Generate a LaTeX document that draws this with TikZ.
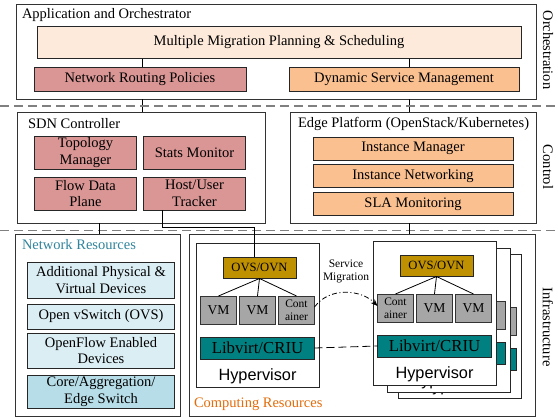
\documentclass[tikz,border=0pt]{standalone}
\usepackage{fontspec}
\setmainfont{Liberation Serif}
\newfontfamily\hypfont{Liberation Sans}
\usetikzlibrary{arrows.meta}

\definecolor{peach}{HTML}{FDEADA}
\definecolor{rose}{HTML}{D99694}
\definecolor{apricot}{HTML}{FAC090}
\definecolor{paleblue}{HTML}{DBEEF4}
\definecolor{midblue}{HTML}{B7DEE8}
\definecolor{gold}{HTML}{BF9000}
\definecolor{vmgray}{HTML}{A6A6A6}
\definecolor{tealbox}{HTML}{008080}
\definecolor{netteal}{HTML}{31859C}
\definecolor{comporange}{HTML}{E46C0A}
\definecolor{sepgray}{HTML}{808080}

% one hypervisor host: prefix, x, y, three guest styles
\newcommand\hyperstack[6]{%
  \node[hypbox] (#1) at (#2,#3) {};
  \node[ovsbox] (#1ovs) at ({#2+27},{#3+14}) {OVS/OVN};
  \node (#1a) at ({#2+4.5},{#3+53}) [#4];
  \node (#1b) at ({#2+43.5},{#3+53}) [#5];
  \node (#1c) at ({#2+82.5},{#3+53}) [#6];
  \node[libbox] (#1lib) at ({#2+4.5},{#3+94}) {Libvirt/CRIU};
  \node[hyptext] (#1txt) at ({#2+61.5},{#3+133}) {Hypervisor};
  \draw[wire] (#1ovs.south) -- (#1a.north);
  \draw[wire] (#1ovs.south) -- (#1b.north);
  \draw[wire] (#1ovs.south) -- (#1c.north);
}
% a host further back in the stack: only its right edge and label peek out
\newcommand\backhost[3]{%
  \node[hypbox] (#1) at (#2,#3) {};
  \node[vmbox] (#1c) at ({#2+82.5},{#3+53}) {};
  \node[libbox] (#1lib) at ({#2+4.5},{#3+94}) {};
  \node[hyptext] (#1txt) at ({#2+61.5},{#3+133}) {Hypervisor};
}

\begin{document}
\begin{tikzpicture}[x=1pt,y=-1pt,
  every node/.style={inner sep=0pt, outer sep=0pt},
  frame/.style={draw=black!80, line width=0.9pt, fill=white, anchor=north west},
  cbox/.style={draw=black!85, line width=0.8pt, anchor=north west, align=center,
    font=\fontsize{14.5}{16.5}\selectfont},
  title/.style={anchor=west, font=\fontsize{14.5}{16}\selectfont},
  side/.style={rotate=-90, font=\fontsize{14.5}{16}\selectfont},
  wire/.style={draw=black, line width=0.8pt},
  sep/.style={draw=sepgray, line width=1.3pt, dash pattern=on 9pt off 5pt},
  hypbox/.style={draw=black!85, line width=0.8pt, fill=white, anchor=north west,
    minimum width=123pt, minimum height=144pt},
  ovsbox/.style={cbox, fill=gold, minimum width=73pt, minimum height=21.5pt,
    font=\fontsize{12.6}{13}\selectfont},
  vmbox/.style={cbox, fill=vmgray, draw=black!80, minimum width=36pt, minimum height=28pt},
  vm/.style={vmbox, font=\fontsize{13.6}{14}\selectfont, node contents={VM}},
  ctr/.style={vmbox, font=\fontsize{11.5}{12.5}\selectfont, node contents={Cont\\ainer}},
  libbox/.style={cbox, fill=tealbox, minimum width=114pt, minimum height=22pt,
    font=\fontsize{16.8}{17}\selectfont},
  hyptext/.style={font=\hypfont\fontsize{16.3}{17}\selectfont},
]
\useasboundingbox (0,0) rectangle (558,418);
\fill[white] (0,0) rectangle (558,418);

% x positions of the vertical links
\coordinate (xl) at (142,0);
\coordinate (xr) at (409,0);
\coordinate (xn) at (99,0);
\coordinate (tk) at (162,0);
\coordinate (bend) at (254,227);

% ---------------- Orchestration ----------------
\node[frame, minimum width=520pt, minimum height=95pt] (app) at (16,4) {};
\node[title] (apptitle) at (22,15) {Application and Orchestrator};
\node[cbox, fill=peach, minimum width=484pt, minimum height=32pt] (mmps) at (37,26.5)
  {Multiple Migration Planning \& Scheduling};
\node[cbox, fill=rose, minimum width=212pt, minimum height=24.5pt] (nrp) at (34,67)
  {Network Routing Policies};
\node[cbox, fill=apricot, minimum width=230pt, minimum height=24.5pt] (dsm) at (289,67)
  {Dynamic Service Management};
\draw[wire] (mmps.south -| xl) -- (nrp.north -| xl);
\draw[wire] (mmps.south -| xr) -- (dsm.north -| xr);

% ---------------- Control ----------------
\node[frame, minimum width=248pt, minimum height=111pt] (sdn) at (17,112) {};
\node[title] (sdntitle) at (28,124) {SDN Controller};
\node[cbox, fill=rose, minimum width=102pt, minimum height=33pt] (topo) at (34.5,136)
  {Topology\\Manager};
\node[cbox, fill=rose, minimum width=102pt, minimum height=33pt] (stats) at (143.5,136)
  {Stats Monitor};
\node[cbox, fill=rose, minimum width=102pt, minimum height=33pt] (flow) at (34.5,177)
  {Flow Data\\Plane};
\node[cbox, fill=rose, minimum width=102pt, minimum height=33pt] (track) at (143.5,177)
  {Host/User\\Tracker};

\node[frame, minimum width=246pt, minimum height=111pt] (edge) at (290,112) {};
\node[title] (edgetitle) at (298,124) {Edge Platform (OpenStack/Kubernetes)};
\node[cbox, fill=apricot, minimum width=200pt, minimum height=23pt] (im) at (313,137)
  {Instance Manager};
\node[cbox, fill=apricot, minimum width=200pt, minimum height=23pt] (inet) at (313,164.5)
  {Instance Networking};
\node[cbox, fill=apricot, minimum width=200pt, minimum height=23pt] (sla) at (313,192.5)
  {SLA Monitoring};

\draw[wire] (app.south -| xl) -- (sdn.north -| xl);
\draw[wire] (app.south -| xr) -- (edge.north -| xr);

% layer separators
\draw[sep] (0,106) -- (558,106);
\draw[sep] (0,230.5) -- (558,230.5);

% ---------------- Infrastructure ----------------
\node[frame, minimum width=165pt, minimum height=182pt] (net) at (15,234) {};
\node[title, text=netteal] (nettitle) at (22,245) {Network Resources};
\node[cbox, fill=paleblue, minimum width=147pt, minimum height=36pt] (addl) at (27.5,262)
  {Additional Physical \&\\Virtual Devices};
\node[cbox, fill=paleblue, minimum width=147pt, minimum height=25pt] (ovs) at (27.5,304)
  {Open vSwitch (OVS)};
\node[cbox, fill=paleblue, minimum width=147pt, minimum height=35pt] (ofd) at (27.5,333)
  {OpenFlow Enabled\\Devices};
\node[cbox, fill=midblue, minimum width=147pt, minimum height=33pt] (core) at (27.5,375.5)
  {Core/Aggregation/\\Edge Switch};

\node[frame, minimum width=346pt, minimum height=182pt] (comp) at (189,234) {};
\node[title, text=comporange] (comptitle) at (194,404) {Computing Resources};

\hyperstack{L}{196}{243}{vm}{vm}{ctr}
\backhost{Rc}{398}{254}
\backhost{Rb}{387}{248}
\hyperstack{R}{373}{241}{ctr}{vm}{vm}

\draw[wire] (sdn.south -| xn) -- (net.north -| xn);
\draw[wire] (edge.south -| xr) -- (comp.north -| xr);
\draw[wire] (track.south -| tk) |- (bend) -- (Lovs.north -| bend);

% live migration between hosts
\node[font=\fontsize{11.5}{13}\selectfont, align=center] (smtxt) at (346,271)
  {Service\\Migration};
\draw[wire, dash pattern=on 5pt off 2.5pt on 1pt off 2.5pt,
  -{Stealth[length=7pt,width=5.5pt]}]
  ([yshift=3pt]Lc.east) .. controls (330,286) and (362,290) .. ([yshift=2pt]Ra.west);
\draw[wire, dash pattern=on 8pt off 4pt] (Llib.east) -- (Rlib.west);

% layer names
\node[side] (lorch) at (548,50) {Orchestration};
\node[side] (lctrl) at (548,167) {Control};
\node[side] (linfra) at (548,327) {Infrastructure};
\end{tikzpicture}
\end{document}
